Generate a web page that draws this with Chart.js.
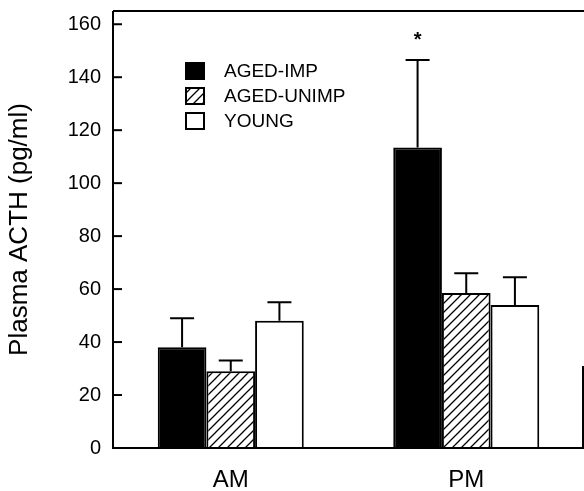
<!DOCTYPE html>
<html>
<head>
<meta charset="utf-8">
<script src="https://cdn.jsdelivr.net/npm/chart.js@4.4.0/dist/chart.umd.min.js"></script>
<style>
  html, body { margin: 0; padding: 0; background: #fff; }
  #wrap { width: 584px; height: 491px; position: relative; }
</style>
</head>
<body>
<div id="wrap"><canvas id="acth"></canvas></div>
<script>
// data
const categories = ['AM', 'PM'];
const seriesNames = ['AGED-IMP', 'AGED-UNIMP', 'YOUNG'];
const agedImp = [38, 113.5];
const agedImpErr = [11, 33];
const agedUnimp = [29, 58.5];
const agedUnimpErr = [4, 7.5];
const young = [48, 54];
const youngErr = [7, 10.5];
const yTicks = [0, 20, 40, 60, 80, 100, 120, 140, 160];
const starMark = { dataset: 0, index: 1, text: '*' };

const FONT = "'Liberation Sans', Arial, sans-serif";

function hatchPattern() {
  const c = document.createElement('canvas');
  c.width = 9; c.height = 9;
  const g = c.getContext('2d');
  g.fillStyle = '#fff';
  g.fillRect(0, 0, 9, 9);
  g.strokeStyle = '#000';
  g.lineWidth = 1.3;
  g.beginPath();
  g.moveTo(-1, 10); g.lineTo(10, -1);
  g.moveTo(-1, 1); g.lineTo(1, -1);
  g.moveTo(8, 10); g.lineTo(10, 8);
  g.stroke();
  return g.createPattern(c, 'repeat');
}

const hatch = hatchPattern();
const errors = [agedImpErr, agedUnimpErr, youngErr];

// error bars, inward ticks, frame, asterisk, legend
const decorPlugin = {
  id: 'decor',
  afterDatasetsDraw(chart) {
    const ctx = chart.ctx;
    const y = chart.scales.y;
    const a = chart.chartArea;
    ctx.save();
    ctx.strokeStyle = '#000';
    ctx.fillStyle = '#000';
    ctx.lineWidth = 2;

    // error bars
    chart.data.datasets.forEach((ds, di) => {
      const meta = chart.getDatasetMeta(di);
      meta.data.forEach((bar, i) => {
        const top = y.getPixelForValue(ds.data[i] + errors[di][i]);
        ctx.beginPath();
        ctx.moveTo(bar.x, bar.y);
        ctx.lineTo(bar.x, top);
        ctx.moveTo(bar.x - 12, top);
        ctx.lineTo(bar.x + 12, top);
        ctx.stroke();
      });
    });

    // axes + frame
    ctx.beginPath();
    ctx.moveTo(a.left, a.top);
    ctx.lineTo(a.left, a.bottom);
    ctx.lineTo(a.right, a.bottom);
    ctx.moveTo(a.left, a.top);
    ctx.lineTo(a.right, a.top);
    ctx.moveTo(a.right - 1, y.getPixelForValue(31));
    ctx.lineTo(a.right - 1, a.bottom);
    ctx.stroke();

    // inward y ticks
    yTicks.forEach(v => {
      const py = y.getPixelForValue(v);
      ctx.beginPath();
      ctx.moveTo(a.left, py);
      ctx.lineTo(a.left + 9, py);
      ctx.stroke();
    });

    // significance asterisk
    const sm = chart.getDatasetMeta(starMark.dataset).data[starMark.index];
    const sv = agedImp[starMark.index] + agedImpErr[starMark.index];
    ctx.font = 'bold 20px ' + FONT;
    ctx.textAlign = 'center';
    ctx.textBaseline = 'middle';
    ctx.fillText(starMark.text, sm.x, y.getPixelForValue(sv) - 20);

    // legend
    const fills = ['#000', hatch, '#fff'];
    ctx.font = '19px ' + FONT;
    ctx.textAlign = 'left';
    seriesNames.forEach((name, i) => {
      const cy = 71 + i * 25;
      ctx.fillStyle = fills[i];
      ctx.fillRect(186, cy - 8, 18, 16);
      ctx.lineWidth = 2;
      ctx.strokeRect(186, cy - 8, 18, 16);
      ctx.fillStyle = '#000';
      ctx.fillText(name, 224, cy + 1);
    });
    ctx.restore();
  }
};

new Chart(document.getElementById('acth'), {
  type: 'bar',
  data: {
    labels: categories,
    datasets: [
      { label: seriesNames[0], data: agedImp, backgroundColor: '#000', borderColor: '#000', borderWidth: 2 },
      { label: seriesNames[1], data: agedUnimp, backgroundColor: hatch, borderColor: '#000', borderWidth: 2 },
      { label: seriesNames[2], data: young, backgroundColor: '#fff', borderColor: '#000', borderWidth: 2 }
    ]
  },
  options: {
    responsive: true,
    maintainAspectRatio: false,
    animation: false,
    layout: { padding: { top: 11, right: 0, left: 0, bottom: 0 } },
    datasets: { bar: { barPercentage: 1, categoryPercentage: 0.62 } },
    plugins: { legend: { display: false }, tooltip: { enabled: false } },
    scales: {
      x: {
        grid: { display: false, drawTicks: false },
        border: { display: false },
        ticks: { color: '#000', font: { family: FONT, size: 24 }, padding: 18 },
        afterFit(s) { s.height = 43; s.paddingLeft = 0; s.paddingRight = 0; }
      },
      y: {
        min: 0,
        max: 165,
        grid: { display: false, drawTicks: false },
        border: { display: false },
        afterBuildTicks(s) { s.ticks = yTicks.map(v => ({ value: v })); },
        ticks: { color: '#000', font: { family: FONT, size: 20 }, padding: 12 },
        title: {
          display: true,
          text: 'Plasma ACTH (pg/ml)',
          color: '#000',
          font: { family: FONT, size: 26 },
          padding: { top: 4, bottom: 4 }
        },
        afterFit(s) { s.width = 113; s.paddingTop = 0; s.paddingBottom = 0; }
      }
    }
  },
  plugins: [decorPlugin]
});
</script>
</body>
</html>
